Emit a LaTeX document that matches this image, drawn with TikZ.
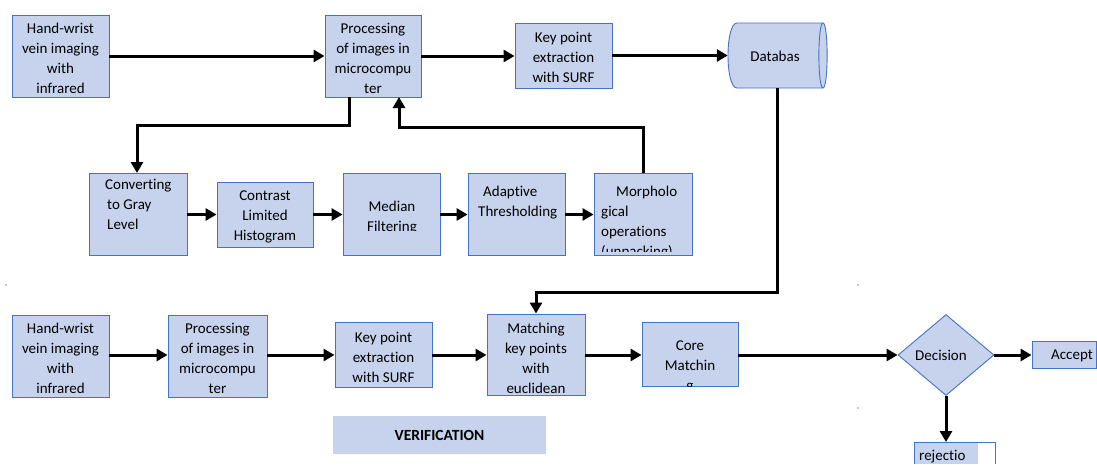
\documentclass[tikz,border=0pt]{standalone}
\usepackage{fontspec}
\setmainfont{Carlito}[Ligatures=NoCommon]
\usetikzlibrary{arrows.meta,shapes.geometric}
\definecolor{boxfill}{RGB}{199,211,236}
\definecolor{boxline}{RGB}{68,114,196}
\tikzset{
  blk/.style={draw=boxline,fill=boxfill,line width=0.9pt,inner sep=0pt},
  txt/.style={font=\fontsize{15}{20}\selectfont,align=center,inner sep=0pt},
  txtl/.style={font=\fontsize{15}{20}\selectfont,align=left,inner sep=0pt,anchor=west},
  conn/.style={line width=3pt,-{Triangle[length=11pt,width=12pt]}},
}
\newcommand{\blkbox}[5]{\node[blk,minimum width=#4-#2,minimum height=#5-#3] (#1) at ({(#2+#4)/2},{(#3+#5)/2}) {};}
\begin{document}
\begin{tikzpicture}[x=1pt,y=-1pt]
\useasboundingbox (0,0) rectangle (1097,464);
% ---------- top row ----------
\blkbox{a1}{12}{15}{109}{97}
\node[txt] at (60.5,58) {Hand-wrist\\vein imaging\\with\\infrared};
\blkbox{b1}{325}{15}{421}{97}
\node[txt] at (373,58) {Processing\\of images in\\microcompu\\ter};
\blkbox{c1}{515}{23}{612}{88}
\node[txt] at (563.5,57) {Key point\\extraction\\with SURF};
% database
\node[inner sep=0pt,minimum width=99,minimum height=65] (db) at (777.5,55.5) {};
\draw[blk] (737,23) -- (823,23) .. controls (828.5,23) and (828.5,88) .. (823,88) -- (737,88) .. controls (725,88) and (725,23) .. (737,23) -- cycle;
\draw[draw=boxline,line width=0.9pt] (823,23) .. controls (817.5,23) and (817.5,88) .. (823,88);
\node[txt] at (775,56) {Databas};
% ---------- processing row ----------
\blkbox{conv}{89}{173}{187}{255}
\node[txtl] at (105,204) {Converting\\\hspace*{2pt}to Gray\\\hspace*{2pt}Level};
\blkbox{clahe}{217}{182}{313}{247}
\node[txt] at (265,217) {Contrast\\Limited\\Histogram};
\blkbox{med}{343}{173}{440}{255}
\begin{scope}
\clip (343,173) rectangle (440,230);
\node[txt] at (392,218) {Median\\Filtering};
\end{scope}
\blkbox{adap}{468}{173}{565}{255}
\node[txtl] at (478,202.5) {\hspace*{5pt}Adaptive\\Thresholding};
\blkbox{morph}{594}{173}{692}{255}
\begin{scope}
\clip (594,173) rectangle (692,251);
\node[txtl] at (601,222.5) {\hspace*{15pt}Morpholo\\gical\\operations\\(unpacking)};
\end{scope}
% ---------- verification row ----------
\blkbox{a2}{12}{315}{109}{397}
\node[txt] at (60.5,358) {Hand-wrist\\vein imaging\\with\\infrared};
\blkbox{b2}{168}{315}{267}{397}
\node[txt] at (217.5,358) {Processing\\of images in\\microcompu\\ter};
\blkbox{c2}{335}{322}{432}{387}
\node[txt] at (383.5,357) {Key point\\extraction\\with SURF};
\blkbox{match}{487}{314}{585}{395}
\begin{scope}
\clip (487,314) rectangle (585,393);
\node[txt] at (536,358) {Matching\\key points\\with\\euclidean};
\end{scope}
\blkbox{core}{642}{322}{738}{386}
\begin{scope}
\clip (642,322) rectangle (738,386);
\node[txt] at (690,367) {Core\\Matchin\\g};
\end{scope}
\node[blk,diamond,minimum width=96,minimum height=81] (dec) at (946,355) {};
\node[txt] at (941,355) {Decision};
\node[blk,minimum width=64,minimum height=27] (acc) at (1064,354.5) {};
\node[txtl] at (1051,355.5) {Accept};
% rejection box (partly filled)
\coordinate (rej) at (954.5,442);
\fill[boxfill] (914,442) rectangle (978,464);
\draw[draw=boxline,line width=0.9pt] (914,464) -- (914,442) -- (995,442) -- (995,464);
\node[txtl] at (919,457) {rejectio};
% verification label
\node[fill=boxfill,minimum width=213,minimum height=38,inner sep=0pt,font=\bfseries\fontsize{15.5}{18}\selectfont] (ver) at (439.5,435) {VERIFICATION};
% stray dots
\fill (6,285) circle (0.6);
\fill (858,285) circle (0.6);
\fill (858,408) circle (0.6);
% ---------- connectors ----------
\draw[conn] (a1.east) -- (b1.west);
\draw[conn] (b1.east) -- (c1.west |- b1.east);
\draw[conn] (c1.east) -- (db.west |- c1.east);
\coordinate (b1out) at (349,97);
\coordinate (b1in) at (399,97);
\coordinate (convin) at (137,173);
\coordinate (morphout) at (643,173);
\draw[conn] (b1out) -- (349,125) -| (convin);
\draw[conn] (morphout) -- (643,127) -| (b1in);
\draw[conn] (conv.east |- clahe.west) -- (clahe.west);
\draw[conn] (clahe.east) -- (med.west |- clahe.east);
\draw[conn] (med.east |- clahe.east) -- (adap.west |- clahe.east);
\draw[conn] (adap.east |- clahe.east) -- (morph.west |- clahe.east);
\coordinate (dbout) at (777,88);
\coordinate (dbturn) at (777,292);
\draw[conn] (dbout) -- (dbturn) -| (match.north);
\coordinate (row) at (0,355);
\draw[conn] (a2.east |- row) -- (b2.west |- row);
\draw[conn] (b2.east |- row) -- (c2.west |- row);
\draw[conn] (c2.east |- row) -- (match.west |- row);
\draw[conn] (match.east |- row) -- (core.west |- row);
\draw[conn] (core.east |- row) -- (dec.west);
\draw[conn] (dec.east) -- (acc.west |- dec.east);
\draw[conn] (dec.south) -- (dec.south |- rej);
\end{tikzpicture}
\end{document}
